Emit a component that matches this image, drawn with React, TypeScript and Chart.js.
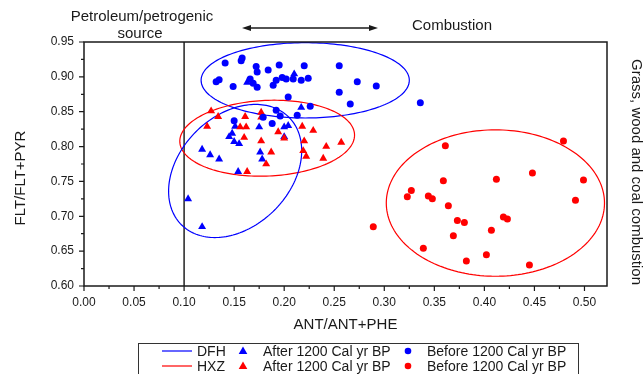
import React, { useEffect, useRef } from "react";
import { Chart, registerables } from "chart.js";

Chart.register(...registerables);

// ---- data ----
const dfhBeforeX = [0.141, 0.158, 0.157, 0.172, 0.173, 0.184, 0.195, 0.135, 0.132, 0.149, 0.166, 0.169, 0.173, 0.189, 0.192, 0.198, 0.202, 0.209, 0.217, 0.224, 0.220, 0.255, 0.273, 0.292, 0.255, 0.266, 0.204, 0.226, 0.213, 0.192, 0.196, 0.179, 0.188, 0.150, 0.336];
const dfhBeforeY = [0.920, 0.927, 0.923, 0.915, 0.907, 0.910, 0.917, 0.896, 0.893, 0.886, 0.897, 0.891, 0.885, 0.888, 0.895, 0.899, 0.897, 0.897, 0.895, 0.898, 0.916, 0.916, 0.893, 0.887, 0.878, 0.861, 0.871, 0.858, 0.845, 0.852, 0.844, 0.842, 0.833, 0.837, 0.863];

const dfhAfterX = [0.163, 0.210, 0.217, 0.148, 0.145, 0.150, 0.155, 0.118, 0.126, 0.135, 0.176, 0.178, 0.154, 0.104, 0.118, 0.151, 0.175, 0.200, 0.204, 0.200];
const dfhAfterY = [0.892, 0.904, 0.856, 0.819, 0.814, 0.807, 0.804, 0.796, 0.788, 0.782, 0.792, 0.782, 0.764, 0.725, 0.685, 0.829, 0.828, 0.828, 0.830, 0.814];

const hxzAfterX = [0.127, 0.134, 0.123, 0.161, 0.177, 0.177, 0.156, 0.162, 0.160, 0.177, 0.187, 0.182, 0.163, 0.194, 0.200, 0.218, 0.229, 0.220, 0.219, 0.222, 0.242, 0.257, 0.239];
const hxzAfterY = [0.851, 0.843, 0.829, 0.843, 0.849, 0.842, 0.828, 0.828, 0.813, 0.808, 0.792, 0.775, 0.764, 0.821, 0.812, 0.829, 0.823, 0.808, 0.794, 0.786, 0.800, 0.806, 0.783];

const hxzBeforeX = [0.361, 0.323, 0.327, 0.359, 0.344, 0.348, 0.364, 0.373, 0.380, 0.369, 0.339, 0.382, 0.402, 0.407, 0.412, 0.419, 0.423, 0.289, 0.448, 0.479, 0.499, 0.491, 0.445];
const hxzBeforeY = [0.801, 0.728, 0.737, 0.751, 0.729, 0.725, 0.715, 0.694, 0.691, 0.672, 0.654, 0.636, 0.645, 0.680, 0.753, 0.699, 0.696, 0.685, 0.762, 0.808, 0.752, 0.723, 0.630];

// confidence ellipses: centre + two conjugate semi-diameters (data units)
const ellipseGroups = ["DFH", "HXZ", "HXZ", "DFH"];
const ellipseCX = [0.221, 0.183, 0.411, 0.151];
const ellipseCY = [0.895, 0.812, 0.719, 0.765];
const ellipseU = [[0.104, 0], [0.087, 0], [0.109, 0], [0.0537, 0.0771]];
const ellipseV = [[0, 0.054], [0.007, 0.0545], [0, 0.105], [0.0392, -0.0563]];

const petrogenicBoundary = 0.1;
const xTickValues = [0, 0.05, 0.1, 0.15, 0.2, 0.25, 0.3, 0.35, 0.4, 0.45, 0.5];
const yTickValues = [0.6, 0.65, 0.7, 0.75, 0.8, 0.85, 0.9, 0.95];

const legendGroups = ["DFH", "HXZ"];
const legendAfter = "After 1200 Cal yr BP";
const legendBefore = "Before 1200 Cal yr BP";

const BLUE = "#0000ff";
const RED = "#ff0000";
const FONT = "'Liberation Sans', Arial, sans-serif";
const INK = "#1a1a1a";

const zip = (xs: number[], ys: number[]) => xs.map((x, i) => ({ x, y: ys[i] }));
const groupColor = (g: string) => (g === "DFH" ? BLUE : RED);

function drawTri(ctx: CanvasRenderingContext2D, x: number, y: number, r: number) {
  ctx.beginPath();
  for (let k = 0; k < 3; k++) {
    const a = (k * 2 * Math.PI) / 3;
    const px = x + Math.sin(a) * r;
    const py = y - Math.cos(a) * r;
    if (k === 0) ctx.moveTo(px, py);
    else ctx.lineTo(px, py);
  }
  ctx.closePath();
  ctx.fill();
}

const decorPlugin = {
  id: "decor",
  beforeDatasetsDraw(chart: any) {
    const ctx: CanvasRenderingContext2D = chart.ctx;
    const xs = chart.scales.x;
    const ys = chart.scales.y;
    const area = chart.chartArea;
    ctx.save();
    // petrogenic boundary
    ctx.strokeStyle = "#222";
    ctx.lineWidth = 1.5;
    const bx = xs.getPixelForValue(petrogenicBoundary);
    ctx.beginPath();
    ctx.moveTo(bx, area.top);
    ctx.lineTo(bx, area.bottom);
    ctx.stroke();
    // ellipses
    ctx.lineWidth = 1.2;
    for (let e = 0; e < ellipseCX.length; e++) {
      ctx.strokeStyle = groupColor(ellipseGroups[e]);
      ctx.beginPath();
      const n = 180;
      for (let i = 0; i <= n; i++) {
        const t = (i / n) * 2 * Math.PI;
        const vx = ellipseCX[e] + ellipseU[e][0] * Math.cos(t) + ellipseV[e][0] * Math.sin(t);
        const vy = ellipseCY[e] + ellipseU[e][1] * Math.cos(t) + ellipseV[e][1] * Math.sin(t);
        const px = xs.getPixelForValue(vx);
        const py = ys.getPixelForValue(vy);
        if (i === 0) ctx.moveTo(px, py);
        else ctx.lineTo(px, py);
      }
      ctx.closePath();
      ctx.stroke();
    }
    ctx.restore();
  },
  afterDraw(chart: any) {
    const ctx: CanvasRenderingContext2D = chart.ctx;
    const xs = chart.scales.x;
    const ys = chart.scales.y;
    const area = chart.chartArea;
    ctx.save();
    // frame
    ctx.strokeStyle = INK;
    ctx.lineWidth = 1.5;
    ctx.strokeRect(area.left, area.top, area.right - area.left, area.bottom - area.top);
    // ticks
    ctx.lineWidth = 1.2;
    ctx.beginPath();
    for (let i = 0; i < xTickValues.length; i++) {
      const px = xs.getPixelForValue(xTickValues[i]);
      ctx.moveTo(px, area.bottom);
      ctx.lineTo(px, area.bottom + 5);
      if (i < xTickValues.length - 1) {
        const mx = xs.getPixelForValue((xTickValues[i] + xTickValues[i + 1]) / 2);
        ctx.moveTo(mx, area.bottom);
        ctx.lineTo(mx, area.bottom + 3);
      }
    }
    for (let i = 0; i < yTickValues.length; i++) {
      const py = ys.getPixelForValue(yTickValues[i]);
      ctx.moveTo(area.left, py);
      ctx.lineTo(area.left - 5, py);
      if (i < yTickValues.length - 1) {
        const my = ys.getPixelForValue((yTickValues[i] + yTickValues[i + 1]) / 2);
        ctx.moveTo(area.left, my);
        ctx.lineTo(area.left - 3, my);
      }
    }
    ctx.stroke();

    // texts
    ctx.fillStyle = INK;
    ctx.font = `15px ${FONT}`;
    ctx.textAlign = "center";
    ctx.textBaseline = "middle";
    ctx.fillText("Petroleum/petrogenic", 142, 17);
    ctx.fillText("source", 140, 34);
    ctx.textAlign = "left";
    ctx.fillText("Combustion", 412, 26);
    ctx.textAlign = "center";
    ctx.fillText("ANT/ANT+PHE", (area.left + area.right) / 2, 325);

    ctx.save();
    ctx.translate(21, 178);
    ctx.rotate(-Math.PI / 2);
    ctx.fillText("FLT/FLT+PYR", 0, 0);
    ctx.restore();

    ctx.save();
    ctx.translate(636, 285);
    ctx.rotate(Math.PI / 2);
    ctx.textAlign = "right";
    ctx.fillText("Grass, wood and coal combustion", 0, 0);
    ctx.restore();

    // double arrow
    ctx.strokeStyle = INK;
    ctx.lineWidth = 1.3;
    ctx.beginPath();
    ctx.moveTo(246, 28);
    ctx.lineTo(374, 28);
    ctx.stroke();
    ctx.beginPath();
    ctx.moveTo(242, 28);
    ctx.lineTo(251, 25);
    ctx.lineTo(251, 31);
    ctx.closePath();
    ctx.fill();
    ctx.beginPath();
    ctx.moveTo(378, 28);
    ctx.lineTo(369, 25);
    ctx.lineTo(369, 31);
    ctx.closePath();
    ctx.fill();

    // legend
    ctx.strokeStyle = "#333";
    ctx.lineWidth = 1;
    ctx.strokeRect(138.5, 343.5, 440, 40);
    ctx.font = `14px ${FONT}`;
    ctx.textAlign = "left";
    ctx.textBaseline = "middle";
    legendGroups.forEach((g, i) => {
      const y = 351 + i * 15;
      const c = groupColor(g);
      ctx.strokeStyle = c;
      ctx.lineWidth = 1.2;
      ctx.beginPath();
      ctx.moveTo(162, y);
      ctx.lineTo(192, y);
      ctx.stroke();
      ctx.fillStyle = INK;
      ctx.fillText(g, 197, y + 1);
      ctx.fillStyle = c;
      drawTri(ctx, 243, y + 0.5, 5);
      ctx.beginPath();
      ctx.arc(408, y, 3.3, 0, Math.PI * 2);
      ctx.fill();
      ctx.fillStyle = INK;
      ctx.fillText(legendAfter, 263, y + 1);
      ctx.fillText(legendBefore, 427, y + 1);
    });
    ctx.restore();
  },
};

export default function App() {
  const ref = useRef<HTMLCanvasElement | null>(null);

  useEffect(() => {
    if (!ref.current) return;
    const tickFont = { family: FONT, size: 12 };
    const chart = new Chart(ref.current, {
      type: "scatter",
      data: {
        datasets: [
          {
            label: "DFH " + legendBefore,
            data: zip(dfhBeforeX, dfhBeforeY),
            pointStyle: "circle",
            pointRadius: 3.5,
            backgroundColor: BLUE,
            borderColor: BLUE,
            borderWidth: 0,
          },
          {
            label: "HXZ " + legendBefore,
            data: zip(hxzBeforeX, hxzBeforeY),
            pointStyle: "circle",
            pointRadius: 3.5,
            backgroundColor: RED,
            borderColor: RED,
            borderWidth: 0,
          },
          {
            label: "HXZ " + legendAfter,
            data: zip(hxzAfterX, hxzAfterY),
            pointStyle: "triangle",
            pointRadius: 4.6,
            backgroundColor: RED,
            borderColor: RED,
            borderWidth: 0,
          },
          {
            label: "DFH " + legendAfter,
            data: zip(dfhAfterX, dfhAfterY),
            pointStyle: "triangle",
            pointRadius: 4.6,
            backgroundColor: BLUE,
            borderColor: BLUE,
            borderWidth: 0,
          },
        ],
      },
      options: {
        responsive: false,
        animation: false,
        layout: { padding: { left: 0, right: 36, top: 42, bottom: 0 } },
        plugins: { legend: { display: false }, tooltip: { enabled: false } },
        scales: {
          x: {
            type: "linear",
            min: 0,
            max: 0.5225,
            afterFit: (s: any) => {
              s.height = 88;
            },
            grid: { display: false, drawTicks: true, tickLength: 5 },
            border: { display: false },
            ticks: {
              stepSize: 0.05,
              includeBounds: false,
              autoSkip: false,
              maxRotation: 0,
              padding: 4,
              color: INK,
              font: tickFont,
              callback: (v: any) => Number(v).toFixed(2),
            },
          },
          y: {
            type: "linear",
            min: 0.6,
            max: 0.95,
            afterFit: (s: any) => {
              s.width = 84;
            },
            grid: { display: false, drawTicks: true, tickLength: 5 },
            border: { display: false },
            ticks: {
              stepSize: 0.05,
              autoSkip: false,
              padding: 5,
              color: INK,
              font: tickFont,
              callback: (v: any) => Number(v).toFixed(2),
            },
          },
        },
      },
      plugins: [decorPlugin],
    });
    return () => chart.destroy();
  }, []);

  return (
    <div style={{ position: "fixed", left: 0, top: 0, width: 643, height: 374, background: "#fff" }}>
      <canvas ref={ref} width={643} height={374} style={{ display: "block" }} />
    </div>
  );
}
